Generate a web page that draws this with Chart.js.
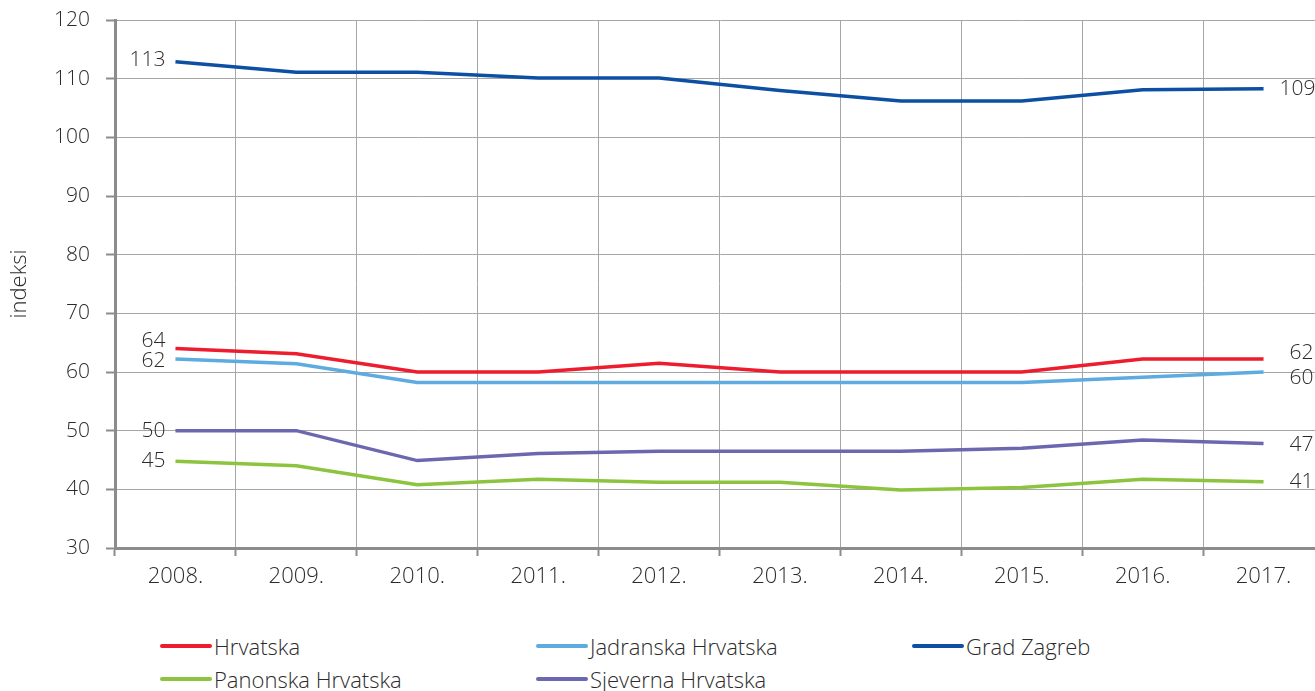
<!DOCTYPE html>
<html>
<head>
<meta charset="utf-8">
<script src="https://cdn.jsdelivr.net/npm/chart.js@4"></script>
<style>
    html, body { margin: 0; padding: 0; background: #fff; overflow: hidden; }
    #wrap { position: relative; width: 1325px; height: 691px; }
    #chart-box { position: absolute; left: 0; top: 0; width: 1325px; height: 610px; }
    #legend { position: absolute; left: 160px; top: 634px; display: grid;
        grid-template-columns: 376px 376px 376px; row-gap: 9px;
        font-family: "Open Sans", "Noto Sans", sans-serif; font-weight: 300; font-size: 22px; color: #2b2b2b; }
    .item { display: flex; align-items: center; height: 24px; }
    .swatch { width: 52px; height: 4px; border-radius: 2px; margin-right: 2px; }
</style>
</head>
<body>
<div id="wrap">
    <div id="chart-box"><canvas id="grafico"></canvas></div>
    <div id="legend"></div>
</div>
<script>
const godine = ["2008.", "2009.", "2010.", "2011.", "2012.", "2013.", "2014.", "2015.", "2016.", "2017."];

const hrvatska = [64.0, 63.1, 60.0, 60.0, 61.5, 60.0, 60.0, 60.0, 62.2, 62.2];
const jadranska = [62.2, 61.4, 58.2, 58.2, 58.2, 58.2, 58.2, 58.2, 59.1, 60.0];
const gradZagreb = [112.9, 111.1, 111.1, 110.1, 110.1, 108.0, 106.2, 106.2, 108.1, 108.3];
const panonska = [44.8, 44.0, 40.8, 41.7, 41.2, 41.2, 39.9, 40.3, 41.7, 41.3];
const sjeverna = [50.0, 50.0, 44.9, 46.1, 46.5, 46.5, 46.5, 47.0, 48.4, 47.8];

// oznake na pocetku i kraju linija (kako su ispisane na slici)
const oznakePocetak = { hr: "64", jad: "62", zg: "113", pan: "45", sje: "50" };
const oznakeKraj = { hr: "62", jad: "60", zg: "109", pan: "41", sje: "47" };

const yTicks = [30, 40, 50, 60, 70, 80, 90, 100, 110, 120];

const FONT = "'Open Sans', 'Noto Sans', sans-serif";
const TEXT = "#2b2b2b";

function serija(key, label, data, color, dyStart, dyEnd, dxEnd) {
    return {
        key, label, data,
        borderColor: color,
        backgroundColor: color,
        borderWidth: 3.5,
        pointRadius: 0,
        tension: 0,
        fill: false,
        dyStart, dyEnd, dxEnd
    };
}

const datasets = [
    serija("hr", "Hrvatska", hrvatska, "#ed1c2e", -8, -6, 26),
    serija("jad", "Jadranska Hrvatska", jadranska, "#5dabe0", 2, 6, 26),
    serija("zg", "Grad Zagreb", gradZagreb, "#0d4fa3", -2, 0, 16),
    serija("pan", "Panonska Hrvatska", panonska, "#8cc43f", 0, 0, 26),
    serija("sje", "Sjeverna Hrvatska", sjeverna, "#6c68b0", 0, 1, 26)
];

const krajnjeOznake = {
    id: "krajnjeOznake",
    afterDatasetsDraw(chart) {
        const ctx = chart.ctx;
        ctx.save();
        ctx.font = "300 21px " + FONT;
        ctx.fillStyle = TEXT;
        ctx.textBaseline = "middle";
        chart.data.datasets.forEach((ds, i) => {
            const pts = chart.getDatasetMeta(i).data;
            const first = pts[0];
            const last = pts[pts.length - 1];
            ctx.textAlign = "right";
            ctx.fillText(oznakePocetak[ds.key], first.x - 10, first.y + ds.dyStart);
            ctx.textAlign = "left";
            ctx.fillText(oznakeKraj[ds.key], last.x + ds.dxEnd, last.y + ds.dyEnd);
        });
        ctx.restore();
    }
};

const chart = new Chart(document.getElementById("grafico").getContext("2d"), {
    type: "line",
    data: { labels: godine, datasets },
    options: {
        responsive: true,
        maintainAspectRatio: false,
        animation: false,
        layout: { padding: { top: 20, right: 1, left: 0, bottom: 0 } },
        plugins: {
            legend: { display: false },
            tooltip: { enabled: false }
        },
        scales: {
            x: {
                offset: true,
                grid: { offset: true, color: "#a6a6a6", lineWidth: 1, tickLength: 8, tickColor: "#8c8c8c", tickWidth: 2 },
                border: { color: "#8c8c8c", width: 3 },
                ticks: { color: TEXT, font: { family: FONT, size: 22, weight: 300 }, padding: 8, maxRotation: 0 },
                afterFit(scale) { scale.height = 62; }
            },
            y: {
                min: 30,
                max: 120,
                afterBuildTicks(scale) { scale.ticks = yTicks.map(v => ({ value: v })); },
                grid: { color: "#a6a6a6", lineWidth: 1, tickLength: 9, tickColor: "#8c8c8c", tickWidth: 2 },
                border: { color: "#8c8c8c", width: 3 },
                ticks: { color: TEXT, font: { family: FONT, size: 21, weight: 300 }, padding: 16 },
                title: { display: true, text: "indeksi", color: TEXT, font: { family: FONT, size: 22, weight: 300 }, padding: { top: 7, bottom: 0 } },
                afterFit(scale) {
                    scale.width = 115;
                    scale.paddingTop = 0;
                    scale.paddingBottom = 0;
                }
            }
        }
    },
    plugins: [krajnjeOznake]
});

// legenda u tri stupca, iz podataka grafa
const legendaRed = ["hr", "jad", "zg", "pan", "sje"];
const legend = document.getElementById("legend");
legendaRed.forEach(k => {
    const ds = chart.data.datasets.find(d => d.key === k);
    const item = document.createElement("div");
    item.className = "item";
    const sw = document.createElement("span");
    sw.className = "swatch";
    sw.style.background = ds.borderColor;
    const txt = document.createElement("span");
    txt.textContent = ds.label;
    item.appendChild(sw);
    item.appendChild(txt);
    legend.appendChild(item);
});
</script>
</body>
</html>
